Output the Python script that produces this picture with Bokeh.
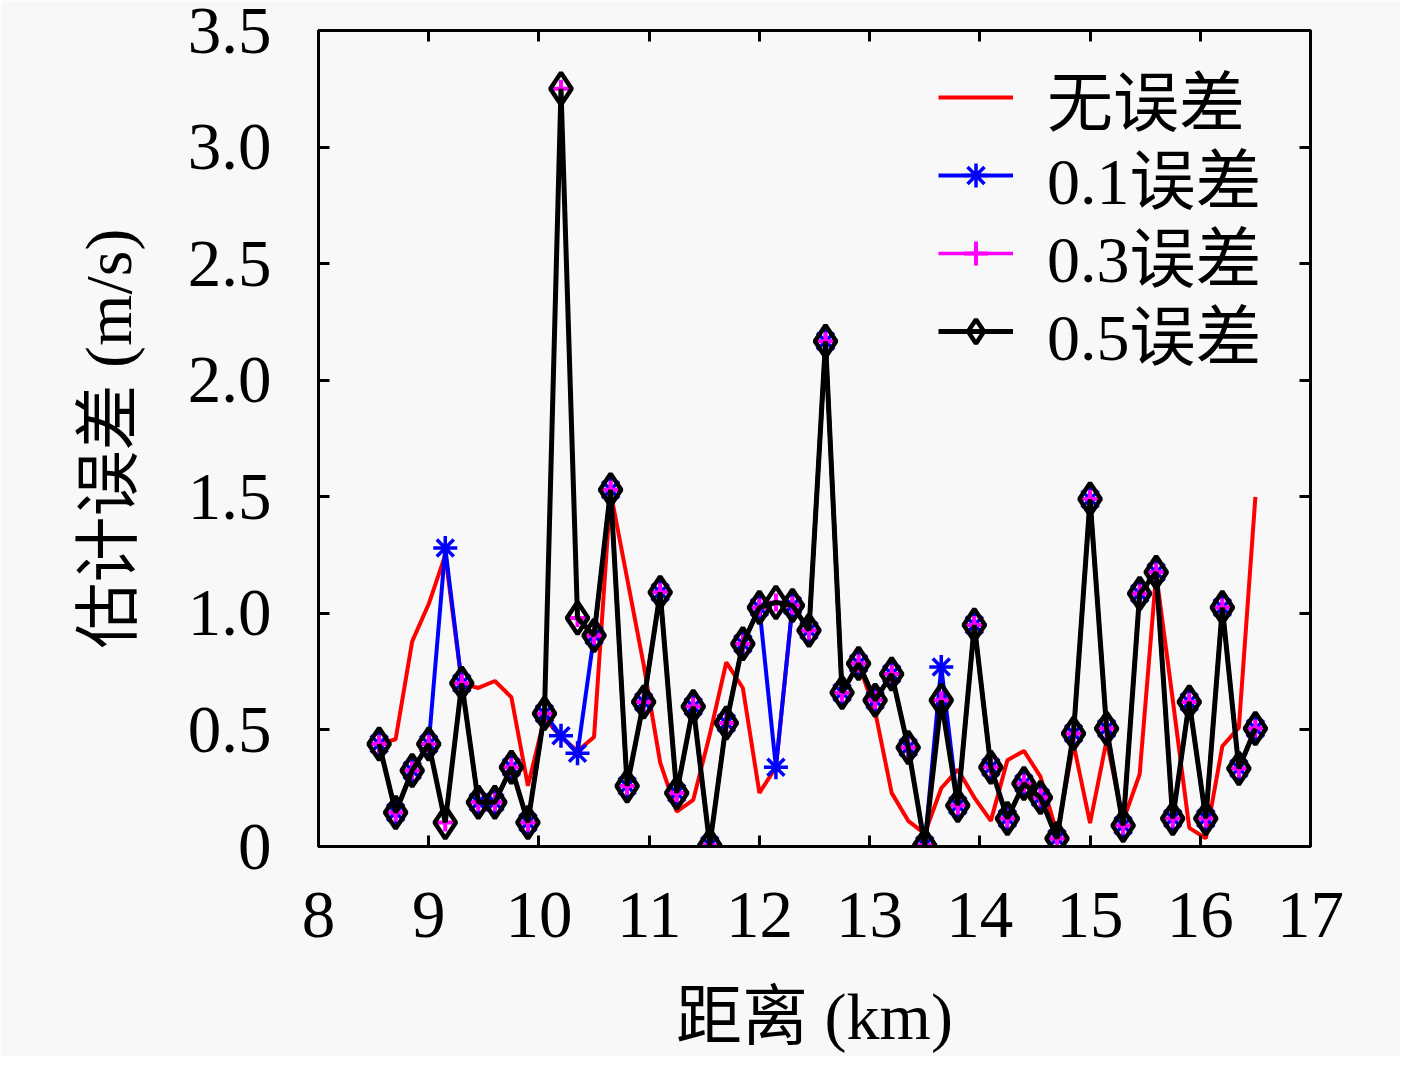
from bokeh.plotting import figure
from bokeh.models import Range1d, FixedTicker, LinearAxis, Legend, LegendItem, PrintfTickFormatter
from bokeh.embed import file_html
from bokeh.resources import INLINE

dist = [8.55, 8.70, 8.85, 9.00, 9.15, 9.30, 9.45, 9.60, 9.75, 9.90,
        10.05, 10.20, 10.35, 10.50, 10.65, 10.80, 10.95, 11.10, 11.25, 11.40,
        11.55, 11.70, 11.85, 12.00, 12.15, 12.30, 12.45, 12.60, 12.75, 12.90,
        13.05, 13.20, 13.35, 13.50, 13.65, 13.80, 13.95, 14.10, 14.25, 14.40,
        14.55, 14.70, 14.85, 15.00, 15.15, 15.30, 15.45, 15.60, 15.75, 15.90,
        16.05, 16.20, 16.35, 16.50]

err_none = [0.44, 0.46, 0.88, 1.04, 1.25, 0.70, 0.68, 0.71, 0.64, 0.26,
            0.55, 0.47, 0.41, 0.47, 1.52, 1.15, 0.78, 0.36, 0.15, 0.20,
            0.48, 0.79, 0.68, 0.23, 0.34, 1.034, 0.927, 2.167, 0.66, 0.785,
            0.58, 0.23, 0.11, 0.055, 0.25, 0.33, 0.21, 0.11, 0.37, 0.41,
            0.30, 0.055, 0.44, 0.10, 0.455, 0.11, 0.31, 1.17, 0.63, 0.08,
            0.035, 0.43, 0.51, 1.50]

err_01 = [0.44, 0.146, 0.326, 0.44, 1.28, 0.70, 0.19, 0.19, 0.34, 0.103,
          0.57, 0.475, 0.40, 0.905, 1.53, 0.26, 0.62, 1.09, 0.23, 0.60,
          0.005, 0.53, 0.87, 1.025, 0.34, 1.034, 0.927, 2.167, 0.66, 0.785,
          0.627, 0.74, 0.425, 0.005, 0.77, 0.176, 0.95, 0.34, 0.12, 0.27,
          0.21, 0.034, 0.485, 1.49, 0.506, 0.09, 1.085, 1.176, 0.12, 0.62,
          0.12, 1.025, 0.335, 0.506]

err_03 = [0.44, 0.146, 0.326, 0.44, 0.103, 0.70, 0.19, 0.19, 0.34, 0.103,
          0.57, 3.25, 0.98, 0.905, 1.53, 0.26, 0.62, 1.09, 0.23, 0.60,
          0.005, 0.53, 0.87, 1.025, 1.047, 1.034, 0.927, 2.167, 0.66, 0.785,
          0.627, 0.74, 0.425, 0.005, 0.627, 0.176, 0.95, 0.34, 0.12, 0.27,
          0.21, 0.034, 0.485, 1.49, 0.506, 0.09, 1.085, 1.176, 0.12, 0.62,
          0.12, 1.025, 0.335, 0.506]

err_05 = [0.44, 0.146, 0.326, 0.44, 0.103, 0.70, 0.19, 0.19, 0.34, 0.103,
          0.57, 3.25, 0.98, 0.905, 1.53, 0.26, 0.62, 1.09, 0.23, 0.60,
          0.005, 0.53, 0.87, 1.025, 1.047, 1.034, 0.927, 2.167, 0.66, 0.785,
          0.627, 0.74, 0.425, 0.005, 0.627, 0.176, 0.95, 0.34, 0.12, 0.27,
          0.21, 0.034, 0.485, 1.49, 0.506, 0.09, 1.085, 1.176, 0.12, 0.62,
          0.12, 1.025, 0.335, 0.506]

x_ticks = [8, 9, 10, 11, 12, 13, 14, 15, 16, 17]
y_ticks = [0, 0.5, 1.0, 1.5, 2.0, 2.5, 3.0, 3.5]
labels = ["无误差", "0.1误差", "0.3误差", "0.5误差"]

NUM_FONT = "Liberation Serif"
MIX_FONT = "Liberation Serif, Noto Sans CJK SC"
BG = "#f8f8f8"

p = figure(width=1400, height=1056, output_backend="svg", toolbar_location=None,
           x_range=Range1d(8, 17), y_range=Range1d(0, 3.5),
           min_border_left=318, min_border_right=90, min_border_top=30, min_border_bottom=210,
           background_fill_color=BG, border_fill_color=BG)
p.grid.visible = False
p.outline_line_color = "black"
p.outline_line_width = 3

for ax in [p.xaxis[0], p.yaxis[0]]:
    ax.axis_line_width = 3
    ax.major_tick_in = 11
    ax.major_tick_out = 0
    ax.major_tick_line_width = 3
    ax.minor_tick_line_color = None
    ax.major_label_text_font = NUM_FONT
    ax.major_label_text_font_size = "67px"
    ax.major_label_text_color = "black"
    ax.axis_label_text_font = MIX_FONT
    ax.axis_label_text_font_size = "66px"
    ax.axis_label_text_font_style = "normal"
    ax.axis_label_text_color = "black"

p.xaxis[0].ticker = FixedTicker(ticks=x_ticks)
p.yaxis[0].ticker = FixedTicker(ticks=y_ticks)
p.yaxis[0].formatter = PrintfTickFormatter(format="%.1f")
p.yaxis[0].major_label_overrides = {0: "0"}
p.xaxis[0].major_label_standoff = 46
p.yaxis[0].major_label_standoff = 47
p.xaxis[0].axis_label = "距离 (km)"
p.yaxis[0].axis_label = "估计误差 (m/s)"
p.xaxis[0].axis_label_standoff = 40
p.yaxis[0].axis_label_standoff = 40

top_ax = LinearAxis(ticker=FixedTicker(ticks=x_ticks), major_label_text_color=None,
                    major_tick_in=11, major_tick_out=0, major_tick_line_width=3,
                    axis_line_width=3, minor_tick_line_color=None)
right_ax = LinearAxis(ticker=FixedTicker(ticks=y_ticks), major_label_text_color=None,
                      major_tick_in=11, major_tick_out=0, major_tick_line_width=3,
                      axis_line_width=3, minor_tick_line_color=None)
p.add_layout(top_ax, "above")
p.add_layout(right_ax, "right")

r_red = p.line(dist, err_none, line_color="#ff0000", line_width=4)

r_blue_l = p.line(dist, err_01, line_color="#0000ff", line_width=4)
r_blue_m = p.scatter(dist, err_01, marker="asterisk", size=24, line_color="#0000ff", line_width=3.5)

r_mag_l = p.line(dist, err_03, line_color="#ff00ff", line_width=3.5)
r_mag_m = p.scatter(dist, err_03, marker="cross", size=18, line_color="#ff00ff", line_width=4)

r_blk_l = p.line(dist, err_05, line_color="black", line_width=5)
r_blk_m = p.scatter(dist, err_05, marker="diamond", size=32, line_color="black", line_width=4.5,
                    fill_color=None)

entries = [
    (labels[0], [r_red], 701),
    (labels[1], [r_blue_l, r_blue_m], 623),
    (labels[2], [r_mag_l, r_mag_m], 545),
    (labels[3], [r_blk_l, r_blk_m], 467),
]
for lab, rends, vy in entries:
    lg = Legend(items=[LegendItem(label=lab, renderers=rends)], location=(620, vy))
    lg.label_text_font = MIX_FONT
    lg.label_text_font_size = "66px"
    lg.label_text_color = "black"
    lg.glyph_width = 75
    lg.glyph_height = 60
    lg.label_height = 60
    lg.label_standoff = 34
    lg.padding = 0
    lg.margin = 0
    lg.border_line_color = None
    lg.background_fill_alpha = 0
    p.add_layout(lg, "center")

open("out.html", "w").write(file_html(p, INLINE))
